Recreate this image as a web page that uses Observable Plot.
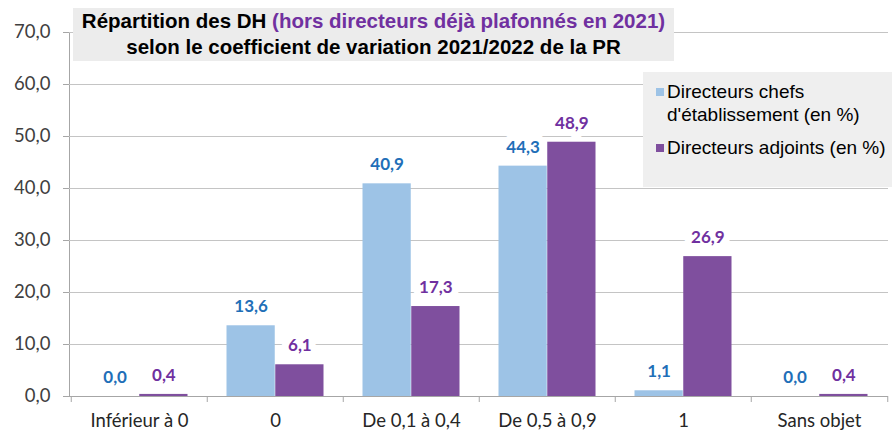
<!DOCTYPE html>
<html><head><meta charset="utf-8">
<script src="https://cdn.jsdelivr.net/npm/d3@7"></script>
<script src="https://cdn.jsdelivr.net/npm/@observablehq/plot@0.6"></script>
<style>
html,body{margin:0;padding:0;background:#fff;}
#wrap{position:relative;width:892px;height:433px;overflow:hidden;background:#fff;}
#chart{position:absolute;left:0;top:0;}
#title{position:absolute;left:73px;top:8px;width:601px;height:53px;background:#ececec;
  font-family:"Liberation Sans",Arial,sans-serif;font-weight:bold;font-size:20.5px;line-height:26px;
  text-align:center;color:#000;white-space:nowrap;}
#title .hl{color:#7030a0;}
#legend{position:absolute;left:643px;top:72px;width:249px;height:115px;background:#efefef;
  font-family:"Liberation Sans",Arial,sans-serif;font-size:19px;line-height:23px;color:#000;
  box-sizing:border-box;padding-top:8px;}
#legend .item{position:relative;padding-left:24px;margin-bottom:10px;}
#legend .sw{position:absolute;left:13px;top:8px;width:8px;height:8px;}
#chart [aria-label^="y-axis"] text{fill:#404040;}
#chart [aria-label^="x-axis"] text{fill:#262626;}
</style>
</head><body>
<div id="wrap">
  <div id="chart"></div>
  <div id="title"></div>
  <div id="legend"></div>
</div>
<script>
const categories = ["Inférieur à 0", "0", "De 0,1 à 0,4", "De 0,5 à 0,9", "1", "Sans objet"];
const chefs = [0.0, 13.6, 40.9, 44.3, 1.1, 0.0];
const adjoints = [0.4, 6.1, 17.3, 48.9, 26.9, 0.4];
const yTicks = [0, 10, 20, 30, 40, 50, 60, 70];
const seriesNames = ["Directeurs chefs d'établissement (en %)", "Directeurs adjoints (en %)"];
const seriesLegendLines = [["Directeurs chefs", "d'établissement (en %)"], ["Directeurs adjoints (en %)"]];
const titleLine1 = "Répartition des DH ";
const titleLine1Highlight = "(hors directeurs déjà plafonnés en 2021)";
const titleLine2 = "selon le coefficient de variation 2021/2022 de la PR";

const barColors = ["#9dc3e6", "#7f4f9e"];
const labelColors = ["#1f6fb8", "#7030a0"];
const axisCol = "#a6a6a6";

const W = 892, H = 433, mL = 69, mR = 4, mT = 32, mB = 37;
const band = (W - mL - mR) / categories.length;
const half = band / 2;
const barW = 48.75;
const gap = (band - 2 * barW) / 2;

const rows = categories.flatMap((c, i) => [
  {cat: c, series: seriesNames[0], value: chefs[i]},
  {cat: c, series: seriesNames[1], value: adjoints[i]}
]);
const fmt = v => v.toFixed(1).replace(".", ",");

const chart = Plot.plot({
  width: W, height: H,
  marginLeft: mL, marginRight: mR, marginTop: mT, marginBottom: mB,
  style: {fontFamily: "Lato, sans-serif", fontSize: "18.5px", color: axisCol, background: "white"},
  x: {domain: categories, padding: 0, tickSize: 0, tickPadding: 17, label: null},
  y: {domain: [0, 70], ticks: yTicks, tickFormat: fmt, tickSize: 6, tickPadding: 13, label: null, line: true},
  marks: [
    Plot.ruleY(yTicks.filter(d => d > 0), {stroke: "#c4c4c4", strokeWidth: 1.2}),
    Plot.ruleX(categories, {stroke: axisCol, dx: -half, insetTop: H - mT - mB, insetBottom: -6}),
    Plot.ruleX(categories.slice(-1), {stroke: axisCol, dx: half, insetTop: H - mT - mB, insetBottom: -6}),
    Plot.text(rows.filter(d => d.series === seriesNames[0]), {
      x: "cat", y: "value", text: d => fmt(d.value), dx: -barW / 2, dy: -19,
      fill: labelColors[0], fontWeight: "bold", fontSize: 17, lineAnchor: "middle",
      stroke: "white", strokeWidth: 14, strokeLinejoin: "round", paintOrder: "stroke"
    }),
    Plot.text(rows.filter(d => d.series === seriesNames[1]), {
      x: "cat", y: "value", text: d => fmt(d.value), dx: barW / 2, dy: -19,
      fill: labelColors[1], fontWeight: "bold", fontSize: 17, lineAnchor: "middle",
      stroke: "white", strokeWidth: 14, strokeLinejoin: "round", paintOrder: "stroke"
    }),
    Plot.barY(rows.filter(d => d.series === seriesNames[0]), {
      x: "cat", y: "value", fill: barColors[0], insetLeft: gap, insetRight: band - gap - barW
    }),
    Plot.barY(rows.filter(d => d.series === seriesNames[1]), {
      x: "cat", y: "value", fill: barColors[1], insetLeft: gap + barW, insetRight: gap
    }),
    Plot.ruleY([0], {stroke: axisCol, strokeWidth: 1.2})
  ]
});
document.getElementById("chart").appendChild(chart);

const title = document.getElementById("title");
const l1 = document.createElement("div");
l1.appendChild(document.createTextNode(titleLine1));
const hl = document.createElement("span"); hl.className = "hl"; hl.textContent = titleLine1Highlight;
l1.appendChild(hl);
const l2 = document.createElement("div"); l2.textContent = titleLine2;
title.appendChild(l1); title.appendChild(l2);

const legend = document.getElementById("legend");
seriesLegendLines.forEach((lines, i) => {
  const item = document.createElement("div"); item.className = "item";
  const sw = document.createElement("span"); sw.className = "sw"; sw.style.background = barColors[i];
  item.appendChild(sw);
  lines.forEach(t => { const d = document.createElement("div"); d.textContent = t; item.appendChild(d); });
  legend.appendChild(item);
});
</script>
</body></html>
